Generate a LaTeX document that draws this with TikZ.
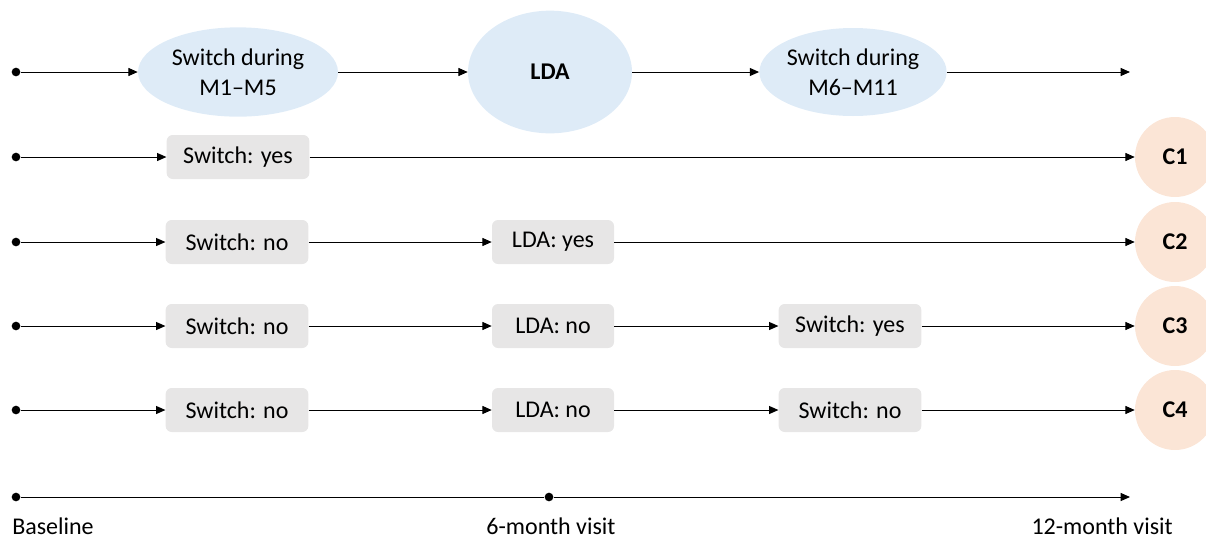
\documentclass[tikz,border=0pt]{standalone}
\usepackage{fontspec}
\setmainfont{Carlito}
\usetikzlibrary{arrows.meta,shapes.geometric}
\definecolor{ovalblue}{HTML}{DEEBF7}
\definecolor{boxgray}{HTML}{E7E6E6}
\definecolor{peach}{HTML}{FBE5D6}

\begin{document}
\begin{tikzpicture}[x=0.75pt, y=-0.75pt,
  every node/.style={font=\fontsize{18}{22.5}\selectfont},
  oval/.style={ellipse, fill=ovalblue, align=center, inner sep=0pt},
  box/.style={fill=boxgray, rounded corners=4.5pt, minimum width=107pt, minimum height=33pt, inner sep=0pt},
  ldabox/.style={box, minimum width=91.5pt},
  outcome/.style={circle, fill=peach, minimum size=60pt, inner sep=0pt, font=\fontsize{18}{22.5}\selectfont\bfseries},
  dot/.style={circle, fill=black, minimum size=6.5pt, inner sep=0pt},
  arrow/.style={-{Triangle[length=7pt,width=6pt]}, line width=0.75pt},
  axislabel/.style={inner sep=0pt}
]
\path[use as bounding box, clip] (0,0) rectangle (1206,540);

% Top row: the two switch windows around the LDA visit
\node[dot] (d0) at (16,72) {};
\node[oval, minimum width=150pt, minimum height=67pt] (sw1) at (238,72) {Switch during\\M1\textendash M5};
\node[oval, minimum width=123pt, minimum height=92pt, font=\fontsize{18}{22.5}\selectfont\bfseries] (lda) at (550,72) {LDA};
\node[oval, minimum width=140pt, minimum height=66pt] (sw2) at (853,72) {Switch during\\M6\textendash M11};
\coordinate (end0) at (1130,72);
\draw[arrow] (d0) -- (sw1);
\draw[arrow] (sw1) -- (lda);
\draw[arrow] (lda) -- (sw2);
\draw[arrow] (sw2) -- (end0);

% Outcome C1
\node[dot] (d1) at (16,157) {};
\node[box] (s11) at (238,157) {Switch: yes};
\node[outcome] (c1) at (1175,157) {C1};
\draw[arrow] (d1) -- (s11);
\draw[arrow] (s11) -- (c1);

% Outcome C2
\node[dot] (d2) at (16,242) {};
\node[box] (s21) at (237,242) {Switch: no};
\node[ldabox] (l22) at (553,242) {LDA: yes};
\node[outcome] (c2) at (1175,242) {C2};
\draw[arrow] (d2) -- (s21);
\draw[arrow] (s21) -- (l22);
\draw[arrow] (l22) -- (c2);

% Outcome C3
\node[dot] (d3) at (16,326) {};
\node[box] (s31) at (237,326) {Switch: no};
\node[ldabox] (l32) at (553,326) {LDA: no};
\node[box] (s33) at (850,326) {Switch: yes};
\node[outcome] (c3) at (1175,326) {C3};
\draw[arrow] (d3) -- (s31);
\draw[arrow] (s31) -- (l32);
\draw[arrow] (l32) -- (s33);
\draw[arrow] (s33) -- (c3);

% Outcome C4
\node[dot] (d4) at (16,410) {};
\node[box] (s41) at (237,410) {Switch: no};
\node[ldabox] (l42) at (553,410) {LDA: no};
\node[box] (s43) at (850,410) {Switch: no};
\node[outcome] (c4) at (1175,410) {C4};
\draw[arrow] (d4) -- (s41);
\draw[arrow] (s41) -- (l42);
\draw[arrow] (l42) -- (s43);
\draw[arrow] (s43) -- (c4);

% Time axis
\node[dot] (t0) at (16,497) {};
\node[dot] (t6) at (549,497) {};
\coordinate (t12) at (1130,497);
\draw[line width=0.75pt] (t0) -- (t6);
\draw[arrow] (t6) -- (t12);
\node[axislabel, anchor=west] (base) at (12,526) {Baseline};
\node[axislabel] (six) at (551,526) {6-month visit};
\node[axislabel, anchor=east] (twelve) at (1173,526) {12-month visit};
\end{tikzpicture}
\end{document}
